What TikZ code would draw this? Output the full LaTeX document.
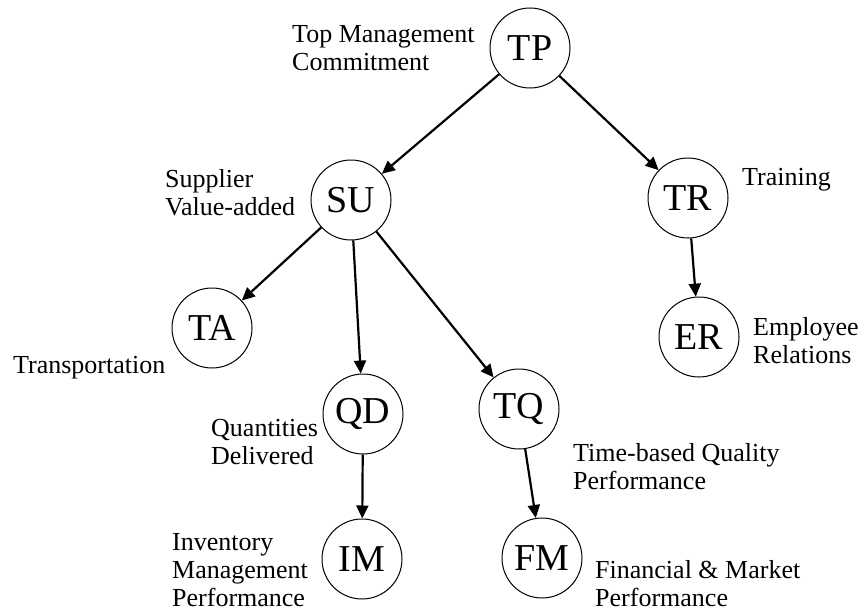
\documentclass[tikz,border=0pt]{standalone}
\usepackage{fontspec}
\setmainfont{Liberation Serif}
\usetikzlibrary{arrows.meta}
\begin{document}
\begin{tikzpicture}[x=1pt,y=-1pt,
  factor/.style={circle,draw,line width=1pt,minimum size=80pt,inner sep=0pt,
    font=\fontsize{38}{42}\selectfont},
  caption/.style={anchor=west,align=left,inner sep=0pt,
    font=\fontsize{26}{28}\selectfont},
  link/.style={line width=2.2pt,-{Triangle[length=13pt,width=12pt]}}]
\useasboundingbox (0,0) rectangle (861,615);

% factors
\node[factor] (tp) at (530,48)  {TP};
\node[factor] (su) at (351,200) {SU};
\node[factor] (tr) at (688,198) {TR};
\node[factor] (ta) at (212,328) {TA};
\node[factor] (er) at (699,337) {ER};
\node[factor] (qd) at (363,414) {QD};
\node[factor] (tq) at (519,409) {TQ};
\node[factor] (im) at (362,559) {IM};
\node[factor] (fm) at (542,558) {FM};

% descriptions
\node[caption] (ltp) at (292,48)  {Top Management\\Commitment};
\node[caption] (lsu) at (165,193) {Supplier\\Value-added};
\node[caption] (ltr) at (742,180) {Training};
\node[caption] (lta) at (13,368)  {Transportation};
\node[caption] (ler) at (753,341) {Employee\\Relations};
\node[caption] (lqd) at (211,442) {Quantities\\Delivered};
\node[caption] (ltq) at (573,467) {Time-based Quality\\Performance};
\node[caption] (lim) at (172,570) {Inventory\\Management\\Performance};
\node[caption] (lfm) at (595,584) {Financial \& Market\\Performance};

% links
\draw[link] (tp) -- (su);
\draw[link] (tp) -- (tr);
\draw[link] (su) -- (ta);
\draw[link] (su) -- (qd);
\draw[link] (su) -- (tq);
\draw[link] (tr) -- (er);
\draw[link] (qd) -- (im);
\draw[link] (tq) -- (fm);
\end{tikzpicture}
\end{document}
